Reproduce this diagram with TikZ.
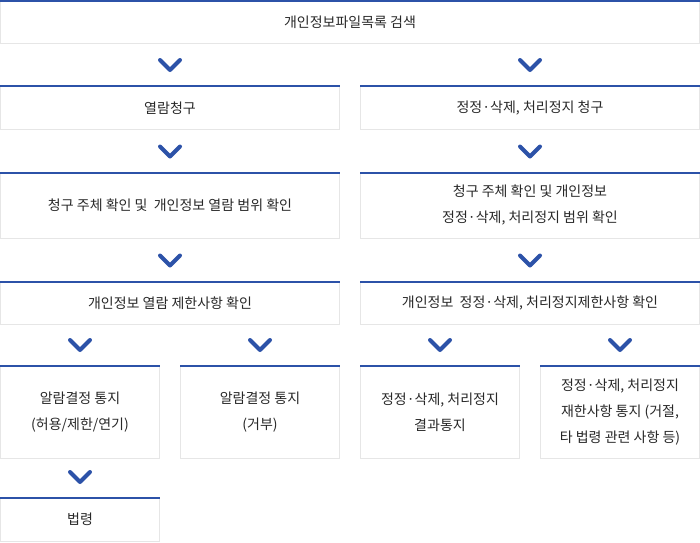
\documentclass[tikz,border=0pt]{standalone}
\usepackage{fontspec}
\setmainfont{Noto Sans CJK KR}
\definecolor{mainblue}{RGB}{44,82,168}
\definecolor{boxgray}{RGB}{230,230,230}
\definecolor{txt}{RGB}{40,40,40}
\tikzset{
  box/.style={draw=boxgray, line width=1pt, fill=white, anchor=north west,
    inner sep=0pt, outer sep=0pt, align=center, text=txt,
    font=\fontsize{14}{26}\selectfont},
  bluetop/.style={draw=mainblue, line width=2pt, shorten <=-0.5pt, shorten >=-0.5pt},
  chev/.style={draw=mainblue, line width=4pt, line cap=round, line join=round}
}
\newcommand\chevto[1]{\draw[chev] ([shift={(-10,-26)}]#1.north) -- ([shift={(0,-16)}]#1.north) -- ([shift={(10,-26)}]#1.north);}
\newcommand\topline[1]{\draw[bluetop] (#1.north west) -- (#1.north east);}
\begin{document}
\begin{tikzpicture}[x=1pt,y=-1pt]
\useasboundingbox (0,0) rectangle (700,542);
% row 1
\node[box, minimum width=699pt, minimum height=42pt] (n0) at (0.5,1) {개인정보파일목록 검색};
% row 2
\node[box, minimum width=339pt, minimum height=43.5pt] (aL) at (0.5,86) {열람청구};
\node[box, minimum width=339pt, minimum height=43.5pt] (aR) at (360.5,86) {정정·삭제, 처리정지 청구};
% row 3
\node[box, minimum width=339pt, minimum height=65.5pt] (bL) at (0.5,172.5) {청구 주체 확인 및 \ 개인정보 열람 범위 확인};
\node[box, minimum width=339pt, minimum height=65.5pt] (bR) at (360.5,172.5) {청구 주체 확인 및 개인정보\\정정·삭제, 처리정지 범위 확인};
% row 4
\node[box, minimum width=339pt, minimum height=42.5pt] (cL) at (0.5,281.5) {개인정보 열람 제한사항 확인};
\node[box, minimum width=339pt, minimum height=42.5pt] (cR) at (360.5,281.5) {개인정보 \ 정정·삭제, 처리정지제한사항 확인};
% row 5
\node[box, minimum width=159pt, minimum height=92pt] (d1) at (0.5,366) {알람결정 통지\\(허용/제한/연기)};
\node[box, minimum width=159pt, minimum height=92pt] (d2) at (180.5,366) {알람결정 통지\\(거부)};
\node[box, minimum width=159pt, minimum height=92pt] (d3) at (360.5,366) {정정·삭제, 처리정지\\결과통지};
\node[box, minimum width=159pt, minimum height=92pt] (d4) at (540.5,366) {정정·삭제, 처리정지\\재한사항 통지 (거절,\\타 법령 관련 사항 등)};
% row 6
\node[box, minimum width=159pt, minimum height=43pt] (e1) at (0.5,498) {법령};
% blue top lines
\foreach \n in {n0,aL,aR,bL,bR,cL,cR,d1,d2,d3,d4,e1} {\topline{\n}}
% chevrons
\chevto{aL}
\chevto{aR}
\chevto{bL}
\chevto{bR}
\chevto{cL}
\chevto{cR}
\chevto{d1}
\chevto{d2}
\chevto{d3}
\chevto{d4}
\chevto{e1}
\end{tikzpicture}
\end{document}
